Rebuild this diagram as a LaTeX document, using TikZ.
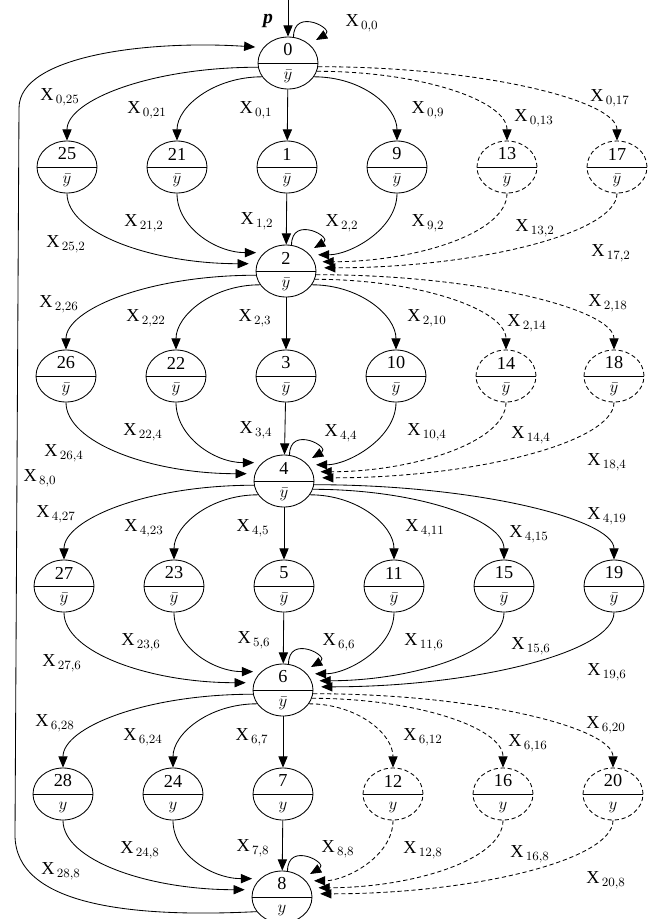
\documentclass[tikz,border=0pt]{standalone}
\usepackage{fontspec}
\setmainfont{Liberation Serif}
\usetikzlibrary{arrows.meta,shapes.geometric}

\begin{document}
\begin{tikzpicture}[x=0.25mm, y=-0.25mm, line width=0.6pt,
  st/.style={draw, ellipse, minimum width=15mm, minimum height=13mm, inner sep=0pt},
  faintst/.style={st, densely dashed},
  num/.style={font=\fontsize{13}{15}\selectfont, inner sep=0pt},
  lbl/.style={font=\fontsize{13}{15}\selectfont, inner sep=1pt},
  arr/.style={-{Triangle[length=2.8mm,width=2.3mm]}},
  side/.style={arr, shorten >=2mm},
  dsh/.style={densely dashed},
  % hub -> row, by column
  fo0/.style={out=180,in=90,out distance=27mm,in distance=10mm},
  fo1/.style={out=180,in=90,out distance=12mm,in distance=8.5mm},
  fo3/.style={out=0,in=90,out distance=12mm,in distance=8.5mm},
  fo4/.style={out=0,in=90,out distance=26mm,in distance=10mm},
  fo5/.style={out=0,in=90,out distance=41mm,in distance=10mm},
  % row -> hub, by column
  ti0/.style={out=-90,in=180,out distance=10mm,in distance=26mm},
  ti1/.style={out=-90,in=180,out distance=8.5mm,in distance=12mm},
  ti3/.style={out=-90,in=0,out distance=9mm,in distance=10mm},
  ti4/.style={out=-90,in=0,out distance=10mm,in distance=25mm},
  ti5/.style={out=-90,in=0,out distance=10mm,in distance=40mm},
  self/.style={side, out=90, in=30, looseness=4.5}]
  \useasboundingbox (0,0) rectangle (650,919);

  % states: number over the line, output under it
  \foreach \n/\x/\y/\s/\k in {
      0/288/63/\bar y/st,
      25/67/167/\bar y/st, 21/177/167/\bar y/st, 1/287/167/\bar y/st,
      9/397/167/\bar y/st, 13/507/167/\bar y/faintst, 17/617/167/\bar y/faintst,
      2/286/271/\bar y/st,
      26/66/376/\bar y/st, 22/176/376/\bar y/st, 3/286/376/\bar y/st,
      10/396/376/\bar y/st, 14/506/376/\bar y/faintst, 18/614/376/\bar y/faintst,
      4/284/481/\bar y/st,
      27/64/586/\bar y/st, 23/174/586/\bar y/st, 5/284/586/\bar y/st,
      11/394/586/\bar y/st, 15/504/586/\bar y/st, 19/614/586/\bar y/st,
      6/283/690/\bar y/st,
      28/63/794/y/st, 24/173/794/y/st, 7/283/794/y/st,
      12/393/794/y/faintst, 16/503/794/y/faintst, 20/613/794/y/faintst,
      8/282/897/y/st} {
    \node[\k] (n\n) at (\x,\y) {};
    \draw (n\n.west) -- (n\n.east);
    \node[num] (t\n) at (\x,\y-13) {\n};
    \node[num] (b\n) at (\x,\y+13) {$\s$};
  }

  % start
  \coordinate (pin) at (288,0);
  \draw[arr] (pin) -- (n0);
  \node[font=\fontsize{14}{16}\selectfont] (p) at (268,21) {\textbf{\textit{p}}};

  % 0 -> first row -> 2
  \draw[arr] (n0.188) to[fo0] (n25.north);
  \draw[arr] (n0.208) to[fo1] (n21.north);
  \draw[arr] (n0) -- (n1);
  \draw[arr] (n0.-28) to[fo3] (n9.north);
  \draw[arr,dsh] (n0.-16) to[fo4] (n13.north);
  \draw[arr,dsh] (n0.-7) to[fo5] (n17.north);
  \draw[self] (n0.78) to (n0.42);
  \draw[side] (n25.south) to[ti0] (n2.166);
  \draw[side] (n21.south) to[ti1] (n2.140);
  \draw[arr] (n1) -- (n2);
  \draw[side] (n9.south) to[ti3] (n2.34);
  \draw[side,dsh] (n13.south) to[ti4] (n2.18);
  \draw[side,dsh] (n17.south) to[ti5] (n2.6);
  \draw[self] (n2.78) to (n2.42);

  % 2 -> second row -> 4
  \draw[arr] (n2.188) to[fo0] (n26.north);
  \draw[arr] (n2.208) to[fo1] (n22.north);
  \draw[arr] (n2) -- (n3);
  \draw[arr] (n2.-28) to[fo3] (n10.north);
  \draw[arr,dsh] (n2.-16) to[fo4] (n14.north);
  \draw[arr,dsh] (n2.-7) to[fo5] (n18.north);
  \draw[side] (n26.south) to[ti0] (n4.166);
  \draw[side] (n22.south) to[ti1] (n4.140);
  \draw[arr] (n3) -- (n4);
  \draw[side] (n10.south) to[ti3] (n4.34);
  \draw[side,dsh] (n14.south) to[ti4] (n4.18);
  \draw[side,dsh] (n18.south) to[ti5] (n4.6);
  \draw[self] (n4.78) to (n4.42);

  % 4 -> third row -> 6
  \draw[arr] (n4.188) to[fo0] (n27.north);
  \draw[arr] (n4.208) to[fo1] (n23.north);
  \draw[arr] (n4) -- (n5);
  \draw[arr] (n4.-28) to[fo3] (n11.north);
  \draw[arr] (n4.-16) to[fo4] (n15.north);
  \draw[arr] (n4.-7) to[fo5] (n19.north);
  \draw[side] (n27.south) to[ti0] (n6.166);
  \draw[side] (n23.south) to[ti1] (n6.140);
  \draw[arr] (n5) -- (n6);
  \draw[side] (n11.south) to[ti3] (n6.34);
  \draw[side] (n15.south) to[ti4] (n6.18);
  \draw[side] (n19.south) to[ti5] (n6.6);
  \draw[self] (n6.78) to (n6.42);

  % 6 -> fourth row -> 8
  \draw[arr] (n6.188) to[fo0] (n28.north);
  \draw[arr] (n6.208) to[fo1] (n24.north);
  \draw[arr] (n6) -- (n7);
  \draw[arr,dsh] (n6.-28) to[fo3] (n12.north);
  \draw[arr,dsh] (n6.-16) to[fo4] (n16.north);
  \draw[arr,dsh] (n6.-7) to[fo5] (n20.north);
  \draw[side] (n28.south) to[ti0] (n8.166);
  \draw[side] (n24.south) to[ti1] (n8.140);
  \draw[arr] (n7) -- (n8);
  \draw[side,dsh] (n12.south) to[ti3] (n8.34);
  \draw[side,dsh] (n16.south) to[ti4] (n8.18);
  \draw[side,dsh] (n20.south) to[ti5] (n8.6);
  \draw[self] (n8.78) to (n8.42);

  % back from 8 to 0
  \coordinate (rb) at (15,835);
  \coordinate (rt) at (19,108);
  \draw[side] (n8.210) .. controls (130,918) and (15,905) .. (rb) -- (rt)
    .. controls (19,55) and (150,40) .. (n0.148);

  % labels
  \foreach \x/\y/\t [count=\k] in {
      362/23/{0,0},
      60/97/{0,25}, 147/110/{0,21}, 256/110/{0,1}, 428/110/{0,9}, 534/118/{0,13}, 610/98/{0,17},
      66/244/{25,2}, 144/223/{21,2}, 257/221/{1,2}, 342/223/{2,2}, 428/223/{9,2}, 535/228/{13,2}, 611/253/{17,2},
      59/304/{2,26}, 146/318/{2,22}, 255/318/{2,3}, 427/318/{2,10}, 527/323/{2,14}, 608/303/{2,18},
      64/453/{26,4}, 143/432/{22,4}, 256/430/{3,4}, 341/433/{4,4}, 427/432/{10,4}, 531/435/{14,4}, 607/462/{18,4},
      40/478/{8,0},
      56/514/{4,27}, 144/528/{4,23}, 253/528/{4,5}, 425/528/{4,11}, 529/534/{4,15}, 607/516/{4,19},
      62/663/{27,6}, 141/642/{23,6}, 254/640/{5,6}, 339/642/{6,6}, 424/642/{11,6}, 531/646/{15,6}, 607/672/{19,6},
      55/723/{6,28}, 143/737/{6,24}, 252/737/{6,7}, 423/737/{6,12}, 528/743/{6,16}, 606/725/{6,20},
      61/871/{28,8}, 140/850/{24,8}, 253/848/{7,8}, 338/849/{8,8}, 423/850/{12,8}, 530/854/{16,8}, 606/880/{20,8}} {
    \node[lbl] (lab\k) at (\x,\y) {X$_{\,\t}$};
  }
\end{tikzpicture}
\end{document}
